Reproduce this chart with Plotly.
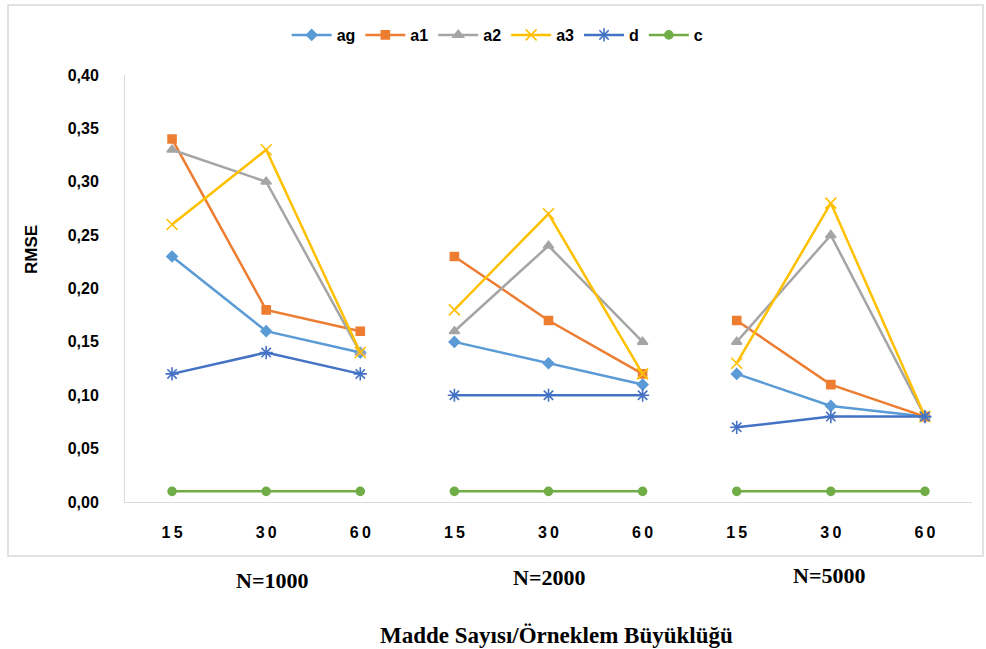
import plotly.graph_objects as go

# Item counts within each sample-size group
item_counts = ["15", "30", "60"]
groups = ["N=1000", "N=2000", "N=5000"]

# RMSE values, ordered group by group (15, 30, 60 items)
ag = [0.23, 0.16, 0.14, 0.15, 0.13, 0.11, 0.12, 0.09, 0.08]
a1 = [0.34, 0.18, 0.16, 0.23, 0.17, 0.12, 0.17, 0.11, 0.08]
a2 = [0.33, 0.30, 0.14, 0.16, 0.24, 0.15, 0.15, 0.25, 0.08]
a3 = [0.26, 0.33, 0.14, 0.18, 0.27, 0.12, 0.13, 0.28, 0.08]
d = [0.12, 0.14, 0.12, 0.10, 0.10, 0.10, 0.07, 0.08, 0.08]
c = [0.01, 0.01, 0.01, 0.01, 0.01, 0.01, 0.01, 0.01, 0.01]

series = [
    ("ag", ag, "#5B9BD5", "diamond", 8),
    ("a1", a1, "#ED7D31", "square", 8),
    ("a2", a2, "#A5A5A5", "triangle-up", 9),
    ("a3", a3, "#FFC000", "x-thin-open", 11),
    ("d", d, "#4472C4", "asterisk-open", 11),
    ("c", c, "#70AD47", "circle", 8),
]

n_per = len(item_counts)


def split_groups(values):
    """Insert gaps so lines break between sample-size groups."""
    xs, ys = [], []
    for g in range(len(groups)):
        for i in range(n_per):
            xs.append(g * n_per + i)
            ys.append(values[g * n_per + i])
        xs.append(None)
        ys.append(None)
    return xs, ys


fig = go.Figure()
for name, vals, color, symbol, size in series:
    xs, ys = split_groups(vals)
    fig.add_trace(go.Scatter(
        x=xs, y=ys, name=name, mode="lines+markers",
        line=dict(color=color, width=2.5),
        marker=dict(symbol=symbol, size=size, color=color,
                    line=dict(color=color, width=1.6)),
        connectgaps=False,
    ))

sans = "Liberation Sans, Arial, sans-serif"
serif = "Liberation Serif, Times New Roman, serif"
tick_font = dict(family=sans, size=16, color="#000000", weight="bold")

W, H = 986, 649
L, R, T, B = 125, 14, 75, 147
plot_w = W - L - R
plot_h = H - T - B

fig.update_layout(
    width=W, height=H,
    margin=dict(l=L, r=R, t=T, b=B),
    paper_bgcolor="white", plot_bgcolor="white",
    separators=",.",
    showlegend=True,
    legend=dict(
        orientation="h", x=0.44, xanchor="center", y=1 + (T - 35) / plot_h,
        yanchor="middle", font=dict(family=sans, size=16, color="#000000", weight="bold"),
        itemwidth=40, tracegroupgap=0,
    ),
    xaxis=dict(
        range=[-0.5, len(ag) - 0.5],
        tickmode="array",
        tickvals=list(range(len(ag))),
        ticktext=["\u2009".join(t) for t in item_counts] * len(groups),
        showgrid=False, zeroline=False,
        showline=True, linecolor="#D9D9D9", linewidth=1,
        ticks="", tickfont=tick_font, ticklabelstandoff=16,
    ),
    yaxis=dict(
        range=[0, 0.40], dtick=0.05, tickformat=".2f",
        showgrid=False, zeroline=False,
        showline=True, linecolor="#D9D9D9", linewidth=1,
        ticks="", tickfont=tick_font, ticklabelstandoff=22,
    ),
)


def px_x(px):
    return (px - L) / plot_w


def px_y(py):
    return (H - B - py) / plot_h


annotations = [
    dict(text="<b>RMSE</b>", x=px_x(31), y=px_y(250), xref="paper", yref="paper",
         textangle=-90, showarrow=False, xanchor="center", yanchor="middle",
         font=dict(family=sans, size=17, color="#000000")),
    dict(text="<b>Madde Sayısı/Örneklem Büyüklüğü</b>", x=px_x(556), y=px_y(635),
         xref="paper", yref="paper", showarrow=False, xanchor="center", yanchor="middle",
         font=dict(family=serif, size=23, color="#000000")),
]
group_label_px = [(272, 580), (549, 577), (829, 575)]
for label, (gx, gy) in zip(groups, group_label_px):
    annotations.append(dict(
        text=f"<b>{label}</b>", x=px_x(gx), y=px_y(gy), xref="paper", yref="paper",
        showarrow=False, xanchor="center", yanchor="middle",
        font=dict(family=serif, size=22, color="#000000"),
    ))
fig.update_layout(annotations=annotations)

# Outer chart border
fig.add_shape(type="rect", xref="paper", yref="paper",
              x0=px_x(8), x1=px_x(983), y0=px_y(556), y1=px_y(5),
              line=dict(color="#D9D9D9", width=1.5), layer="below")

fig.write_html("out.html")
